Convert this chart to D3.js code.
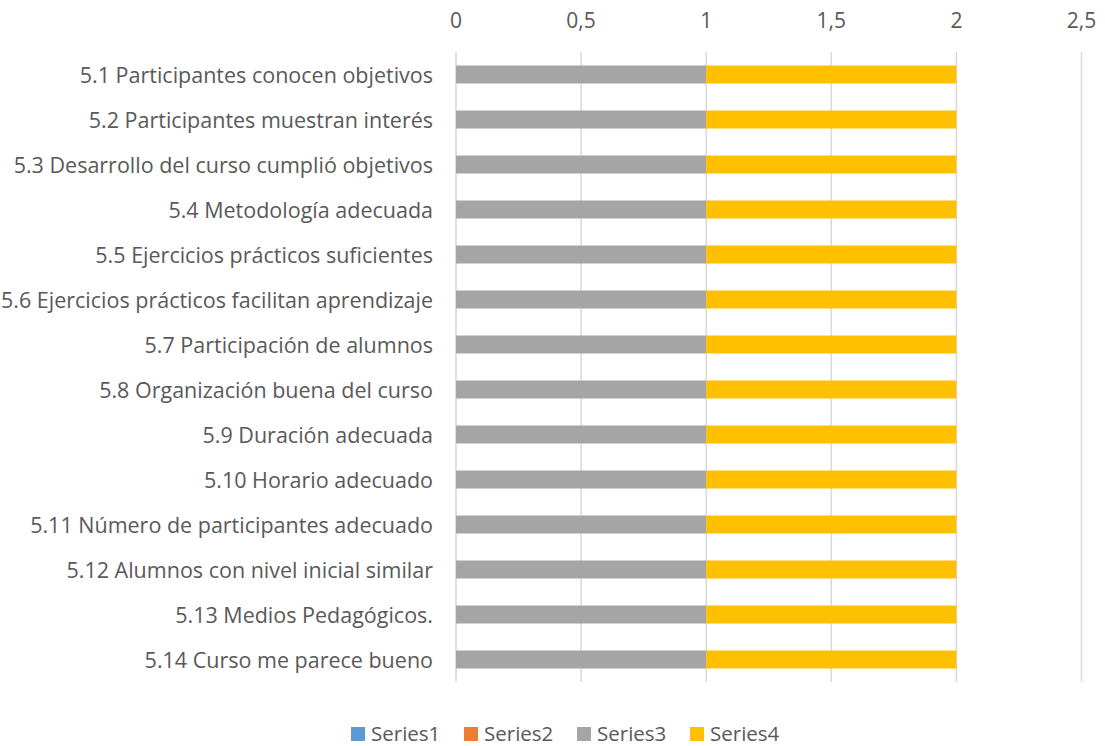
<!DOCTYPE html>
<html>
<head>
<meta charset="utf-8">
<script src="https://cdn.jsdelivr.net/npm/d3@7"></script>
<style>
    body { margin: 0; background: #fff; }
    text { font-family: 'Open Sans', sans-serif; fill: #595959; }
</style>
</head>
<body>
<div id="chart"></div>
<script>
var categories = [
    '5.1 Participantes conocen objetivos',
    '5.2 Participantes muestran interés',
    '5.3 Desarrollo del curso cumplió objetivos',
    '5.4 Metodología adecuada',
    '5.5 Ejercicios prácticos suficientes',
    '5.6 Ejercicios prácticos facilitan aprendizaje',
    '5.7 Participación de alumnos',
    '5.8 Organización buena del curso',
    '5.9 Duración adecuada',
    '5.10 Horario adecuado',
    '5.11 Número de participantes adecuado',
    '5.12 Alumnos con nivel inicial similar',
    '5.13 Medios Pedagógicos.',
    '5.14 Curso me parece bueno'
]
var series_names = ['Series1', 'Series2', 'Series3', 'Series4']
var series1 = [0, 0, 0, 0, 0, 0, 0, 0, 0, 0, 0, 0, 0, 0]
var series2 = [0, 0, 0, 0, 0, 0, 0, 0, 0, 0, 0, 0, 0, 0]
var series3 = [1, 1, 1, 1, 1, 1, 1, 1, 1, 1, 1, 1, 1, 1]
var series4 = [1, 1, 1, 1, 1, 1, 1, 1, 1, 1, 1, 1, 1, 1]
var x_ticks = [0, 0.5, 1, 1.5, 2, 2.5]
var colors = ['#5b9bd5', '#ed7d31', '#a5a5a5', '#ffc000']

var size = ({width: 1105, height: 746})
var margin = ({top: 52, right: 23, bottom: 64, left: 456})

// build rows for d3.stack
var rows = categories.map((c, i) => ({
    name: c,
    Series1: series1[i],
    Series2: series2[i],
    Series3: series3[i],
    Series4: series4[i]
}))

var stacked = d3.stack().keys(series_names)(rows)

var x = d3.scaleLinear()
    .domain([0, 2.5])
    .range([margin.left, size.width - margin.right - 0.5])

var y = d3.scaleBand()
    .domain(categories)
    .range([margin.top, size.height - margin.bottom])
    .paddingInner(0.6)
    .paddingOuter(0.3)

const svg = d3.select('#chart')
    .append('svg')
    .attr('width', size.width)
    .attr('height', size.height)

// gridlines
svg.append('g')
    .selectAll('line')
    .data(x_ticks)
    .join('line')
        .attr('x1', d => x(d))
        .attr('x2', d => x(d))
        .attr('y1', margin.top)
        .attr('y2', size.height - margin.bottom)
        .attr('stroke', '#d9d9d9')
        .attr('stroke-width', 1.5)

// top axis labels
svg.append('g')
    .selectAll('text')
    .data(x_ticks)
    .join('text')
        .attr('x', d => x(d))
        .attr('y', 28)
        .attr('text-anchor', 'middle')
        .style('font-size', '21px')
        .text(d => String(d).replace('.', ','))

// bars
svg.append('g')
    .selectAll('g')
    .data(stacked)
    .join('g')
        .attr('fill', (d, i) => colors[i])
    .selectAll('rect')
    .data(d => d)
    .join('rect')
        .attr('x', d => x(d[0]))
        .attr('y', d => y(d.data.name))
        .attr('width', d => x(d[1]) - x(d[0]))
        .attr('height', y.bandwidth())

// category labels
svg.append('g')
    .selectAll('text')
    .data(categories)
    .join('text')
        .attr('x', margin.left - 23)
        .attr('y', d => y(d) + y.bandwidth() / 2 + 8)
        .attr('text-anchor', 'end')
        .style('font-size', '21.5px')
        .text(d => d)

// legend
var legend = svg.append('g')
    .selectAll('g')
    .data(series_names)
    .join('g')
        .attr('transform', (d, i) => `translate(${351 + i * 113}, 727)`)

legend.append('rect')
    .attr('width', 14)
    .attr('height', 14)
    .attr('fill', (d, i) => colors[i])

legend.append('text')
    .attr('x', 20)
    .attr('y', 14)
    .style('font-size', '20.5px')
    .text(d => d)
</script>
</body>
</html>
